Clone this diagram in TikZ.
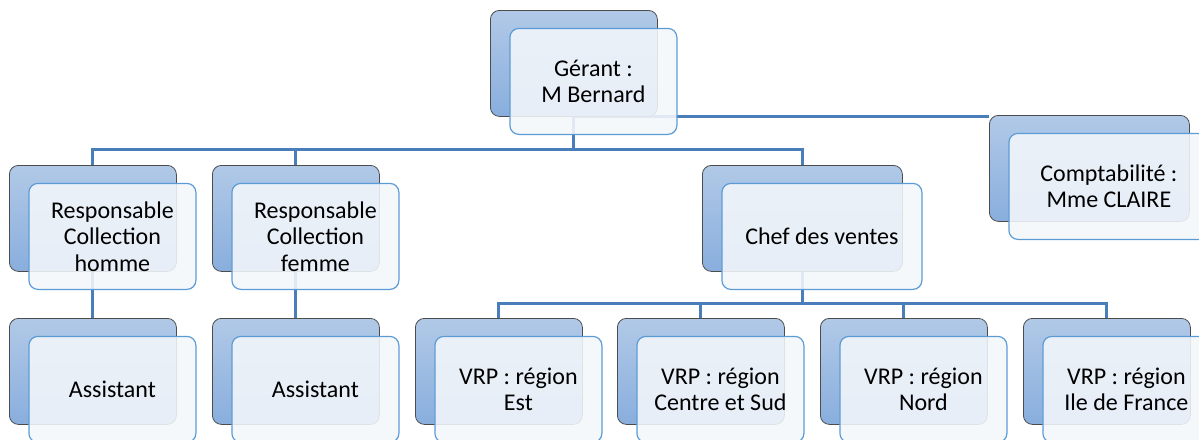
\documentclass[tikz,border=0pt]{standalone}
\usepackage{fontspec}
\setmainfont{Carlito}
\usetikzlibrary{backgrounds}

\definecolor{boxtop}{HTML}{B1C9E7}
\definecolor{boxbottom}{HTML}{89AEDD}
\definecolor{frontline}{HTML}{5B9BD5}
\definecolor{frontfill}{HTML}{F4F7FB}
\definecolor{linkblue}{HTML}{4A7EBB}

\begin{document}
\begin{tikzpicture}[x=1pt, y=-1pt,
    every node/.style={font=\fontsize{24}{26.5}\selectfont}, % Calibri-like text
    backbox/.style={draw=black!70, line width=0.8pt, rounded corners=9pt,
        top color=boxtop, bottom color=boxbottom, anchor=north west,
        minimum width=167pt, minimum height=106pt, inner sep=0pt},
    frontbox/.style={draw=frontline, line width=1.2pt, rounded corners=9pt,
        fill=frontfill, fill opacity=0.88, text opacity=1, align=center,
        minimum width=167pt, minimum height=106pt, inner sep=0pt},
    wide/.style={minimum width=200pt},
    link/.style={draw=linkblue, line width=3pt}]

    \useasboundingbox (0,0) rectangle (1199,439);
    \clip (0,0) rectangle (1199,439);

    % --- Bus levels ---
    \coordinate (bus1) at (0,149);
    \coordinate (bus2) at (0,303);

    % --- Top: manager and assistant ---
    \node[backbox] (gerantB) at (490,10) {};
    \node[frontbox] (gerant) at ([shift={(19.5,18)}]gerantB.center) {Gérant :\\M Bernard};

    \node[backbox, wide] (comptaB) at (989,115) {};
    \node[frontbox, wide] (compta) at ([shift={(19.5,18)}]comptaB.center) {Comptabilité :\\Mme CLAIRE};

    % --- Second level ---
    \node[backbox] (respHB) at (9,165) {};
    \node[frontbox] (respH) at ([shift={(19.5,18)}]respHB.center) {Responsable\\Collection\\homme};

    \node[backbox] (respFB) at (212,165) {};
    \node[frontbox] (respF) at ([shift={(19.5,18)}]respFB.center) {Responsable\\Collection\\femme};

    \node[backbox, wide] (chefB) at (702,165) {};
    \node[frontbox, wide] (chef) at ([shift={(19.5,18)}]chefB.center) {Chef des ventes};

    % --- Third level ---
    \node[backbox] (assHB) at (9,318) {};
    \node[frontbox] (assH) at ([shift={(19.5,18)}]assHB.center) {Assistant};

    \node[backbox] (assFB) at (212,318) {};
    \node[frontbox] (assF) at ([shift={(19.5,18)}]assFB.center) {Assistant};

    \node[backbox] (vrpEB) at (415,318) {};
    \node[frontbox] (vrpE) at ([shift={(19.5,18)}]vrpEB.center) {VRP : région\\Est};

    \node[backbox] (vrpCB) at (617,318) {};
    \node[frontbox] (vrpC) at ([shift={(19.5,18)}]vrpCB.center) {VRP : région\\Centre et Sud};

    \node[backbox] (vrpNB) at (820,318) {};
    \node[frontbox] (vrpN) at ([shift={(19.5,18)}]vrpNB.center) {VRP : région\\Nord};

    \node[backbox] (vrpIB) at (1023,318) {};
    \node[frontbox] (vrpI) at ([shift={(19.5,18)}]vrpIB.center) {VRP : région\\Ile de France};

    % --- Connectors (behind the boxes) ---
    \begin{pgfonlayer}{background}
        \draw[link] (gerantB.south) -- (gerantB.south -| comptaB.west);
        \draw[link] (gerantB.south) -- (gerantB.south |- bus1) -| (respHB.north);
        \draw[link] (gerantB.south |- bus1) -| (respFB.north);
        \draw[link] (gerantB.south |- bus1) -| (chefB.north);

        \draw[link] (respHB.south) -- (assHB.north);
        \draw[link] (respFB.south) -- (assFB.north);

        \draw[link] (chefB.south) -- (chefB.south |- bus2) -| (vrpEB.north);
        \draw[link] (chefB.south |- bus2) -| (vrpCB.north);
        \draw[link] (chefB.south |- bus2) -| (vrpNB.north);
        \draw[link] (chefB.south |- bus2) -| (vrpIB.north);
    \end{pgfonlayer}

\end{tikzpicture}
\end{document}
